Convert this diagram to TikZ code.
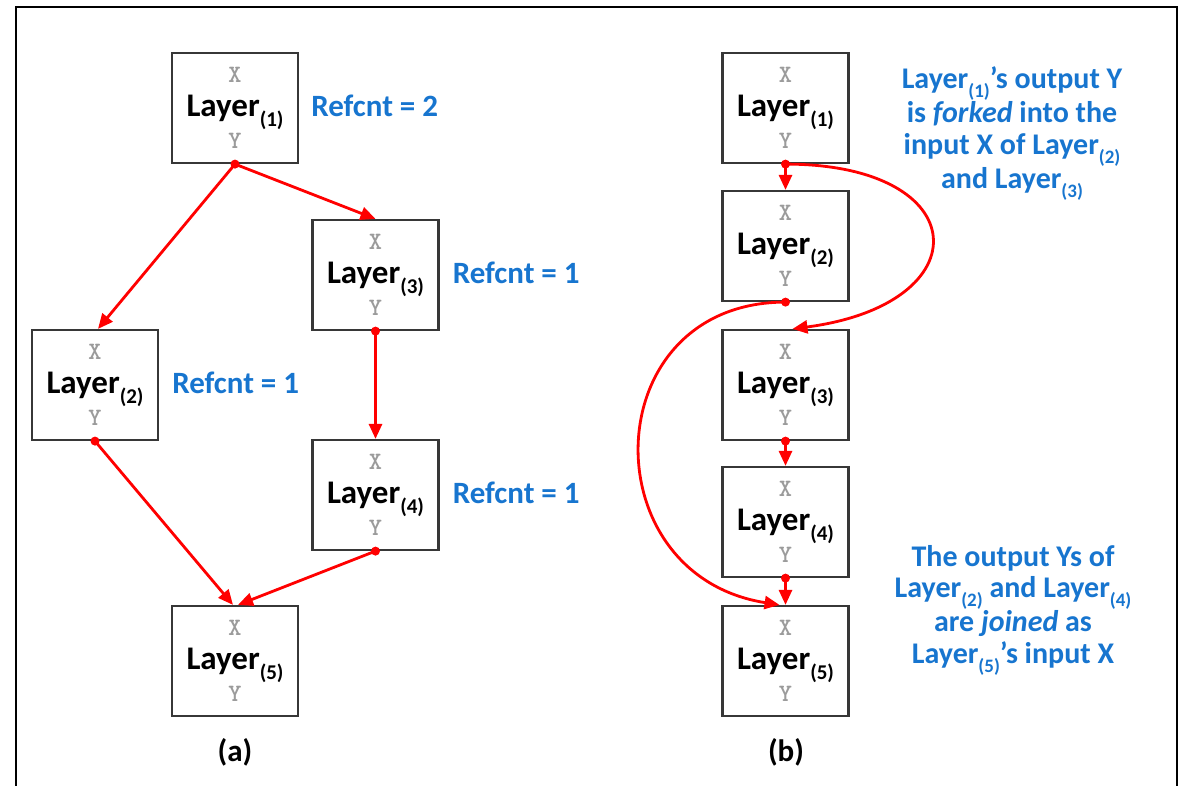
\documentclass[tikz,border=0pt]{standalone}
\usepackage{fontspec}
\setmainfont{Carlito}
\newfontfamily\xyfont{lmmonolt10-bold}[Extension=.otf]
\usetikzlibrary{arrows.meta}

\definecolor{refblue}{RGB}{23,117,207}
\definecolor{linkred}{RGB}{255,0,0}
\definecolor{boxgray}{RGB}{55,55,55}
\definecolor{xygray}{RGB}{155,155,155}

% "Layer" with its index set as a lowered, smaller suffix
\newcommand\lay[2][21]{Layer\raisebox{-0.3em}{\fontsize{#1}{#1}\selectfont(#2)}}

% a layer box: name, centre, index
\newcommand\layerbox[3]{%
  \node[box] (#1) at (#2) {};
  \node[xylbl] (#1x) at ([yshift=-23pt]#1.north) {X};
  \node[layname] (#1n) at ([yshift=-65pt]#1.north) {\lay{#3}};
  \node[xylbl] (#1y) at ([yshift=-89pt]#1.north) {Y};
}

\begin{document}
\begin{tikzpicture}[x=1pt,y=-1pt,
  box/.style={draw=boxgray, line width=2.2pt, fill=white,
    minimum width=126pt, minimum height=110pt, inner sep=0pt},
  xylbl/.style={font=\xyfont\fontsize{25}{25}\selectfont,
    text=xygray, inner sep=0pt},
  layname/.style={font=\bfseries\fontsize{33}{33}\selectfont,
    inner sep=0pt, anchor=base},
  refcnt/.style={font=\bfseries\fontsize{31}{31}\selectfont,
    text=refblue, anchor=base west, inner sep=0pt},
  note/.style={font=\bfseries\fontsize{30}{31.5}\selectfont,
    text=refblue, align=center, inner sep=0pt, anchor=base},
  caption/.style={font=\bfseries\fontsize{31}{31}\selectfont, inner sep=0pt},
  link/.style={draw=linkred, line width=2.8pt,
    -{Triangle[length=15pt,width=13pt]}},
  srcdot/.style={fill=linkred},
]
\useasboundingbox (0,0) rectangle (1183,785);

% outer frame
\draw[line width=2.6pt] (16,800) -- (16,7) -- (1177,7) -- (1177,800);

% ---------- (a) reference counting ----------
\layerbox{A1}{235,108}{1}
\layerbox{A3}{375.5,275}{3}
\layerbox{A2}{95,385}{2}
\layerbox{A4}{375.5,495}{4}
\layerbox{A5}{235,661}{5}

\node[refcnt] (rA1) at ([xshift=12pt,yshift=-65pt]A1.north east) {Refcnt = 2};
\node[refcnt] (rA3) at ([xshift=13pt,yshift=-65pt]A3.north east) {Refcnt = 1};
\node[refcnt] (rA2) at ([xshift=13pt,yshift=-65pt]A2.north east) {Refcnt = 1};
\node[refcnt] (rA4) at ([xshift=13pt,yshift=-65pt]A4.north east) {Refcnt = 1};

\draw[link] (A1.south) -- ([xshift=3pt]A2.north);
\draw[link] (A1.south) -- (A3.north);
\draw[link] (A3.south) -- (A4.north);
\draw[link] (A2.south) -- ([xshift=-2pt]A5.north);
\draw[link] (A4.south) -- ([xshift=3pt]A5.north);
\foreach \n in {A1,A2,A3,A4}
  \fill[srcdot] (\n.south) circle (4.5pt);

\node[caption] (capA) at (235,752) {(a)};

% ---------- (b) fork and join ----------
\layerbox{B1}{785.5,108}{1}
\layerbox{B2}{785.5,246}{2}
\layerbox{B3}{785.5,385}{3}
\layerbox{B4}{785.5,522}{4}
\layerbox{B5}{785.5,661}{5}

\draw[link] (B1.south) -- (B2.north);
\draw[link] (B3.south) -- (B4.north);
\draw[link] (B4.south) -- (B5.north);
\draw[link] (B1.south) .. controls +(190,0) and +(190,-25) .. ([xshift=7pt]B3.north);
\draw[link] (B2.south) .. controls +(-190,0) and +(-190,-30) .. ([xshift=-6pt]B5.north);
\foreach \n in {B1,B2,B3,B4}
  \fill[srcdot] (\n.south) circle (4.5pt);

% multi-line notes: the base anchor sits on the last line
\node[note] (fork) at (1012,188)
  {\lay[19]{1}’s output Y\\ is \textit{forked} into the\\
   input X of \lay[19]{2}\\ and \lay[19]{3}};
\node[note] (join) at (1013,663)
  {The output Ys of\\ \lay[19]{2} and \lay[19]{4}\\
   are \textit{joined} as\\ \lay[19]{5}’s input X};

\node[caption] (capB) at (786,752) {(b)};
\end{tikzpicture}
\end{document}
